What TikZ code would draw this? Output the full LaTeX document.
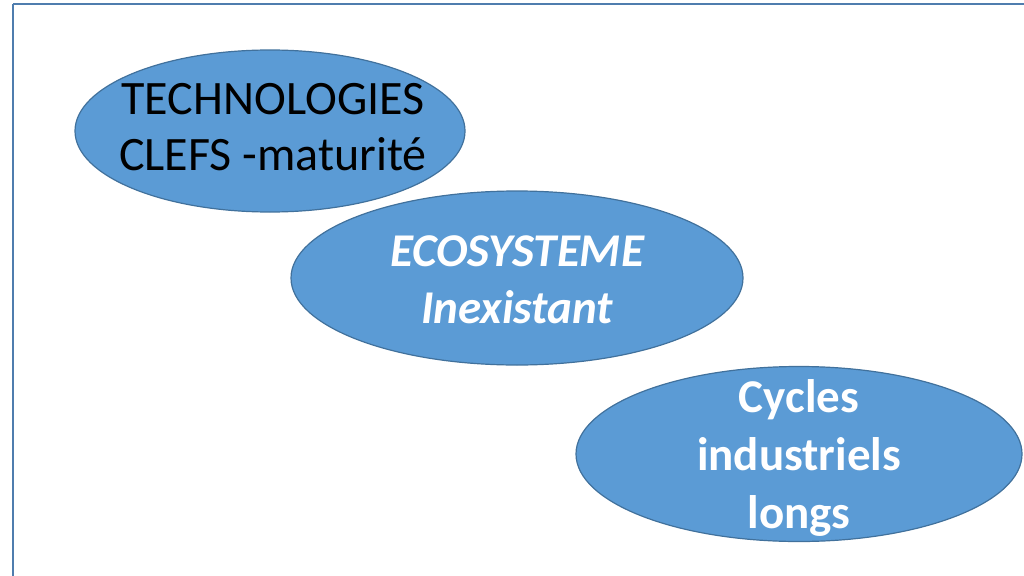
\documentclass[tikz,border=0pt]{standalone}
\usepackage{fontspec}
\setmainfont{Carlito}
\usetikzlibrary{shapes.geometric}
\definecolor{fillblue}{HTML}{5B9BD5}
\definecolor{edgeblue}{HTML}{41719C}
\definecolor{framecol}{HTML}{4F7DAE}
\tikzset{
  bubble/.style={ellipse, draw=edgeblue, line width=1.2pt, fill=fillblue, inner sep=0pt},
  btext/.style={align=center, inner sep=0pt, font=\fontsize{47}{56}\selectfont},
}
\begin{document}
\begin{tikzpicture}[x=1pt,y=-1pt]
\useasboundingbox (0,0) rectangle (1024,575);
\draw[framecol, line width=2.6pt] (13,4) -- (1040,4) (13,4) -- (13,590);
\node[bubble, minimum width=390pt, minimum height=162pt] (tech) at (270,131) {};
\node[btext, text=black, font=\fontsize{48}{56}\selectfont] (techt) at (273,127) {TECHNOLOGIES\\CLEFS -maturité};
\node[bubble, minimum width=452pt, minimum height=174pt] (eco) at (517,278) {};
\node[btext, text=white, font=\fontsize{47}{57}\selectfont\bfseries\itshape] (ecot) at (517,280) {ECOSYSTEME\\Inexistant};
\node[bubble, minimum width=446pt, minimum height=175pt] (cyc) at (799,454) {};
\node[btext, text=white, font=\fontsize{47}{58}\selectfont\bfseries] (cyct) at (799,458) {Cycles\\industriels\\longs};
\end{tikzpicture}
\end{document}
